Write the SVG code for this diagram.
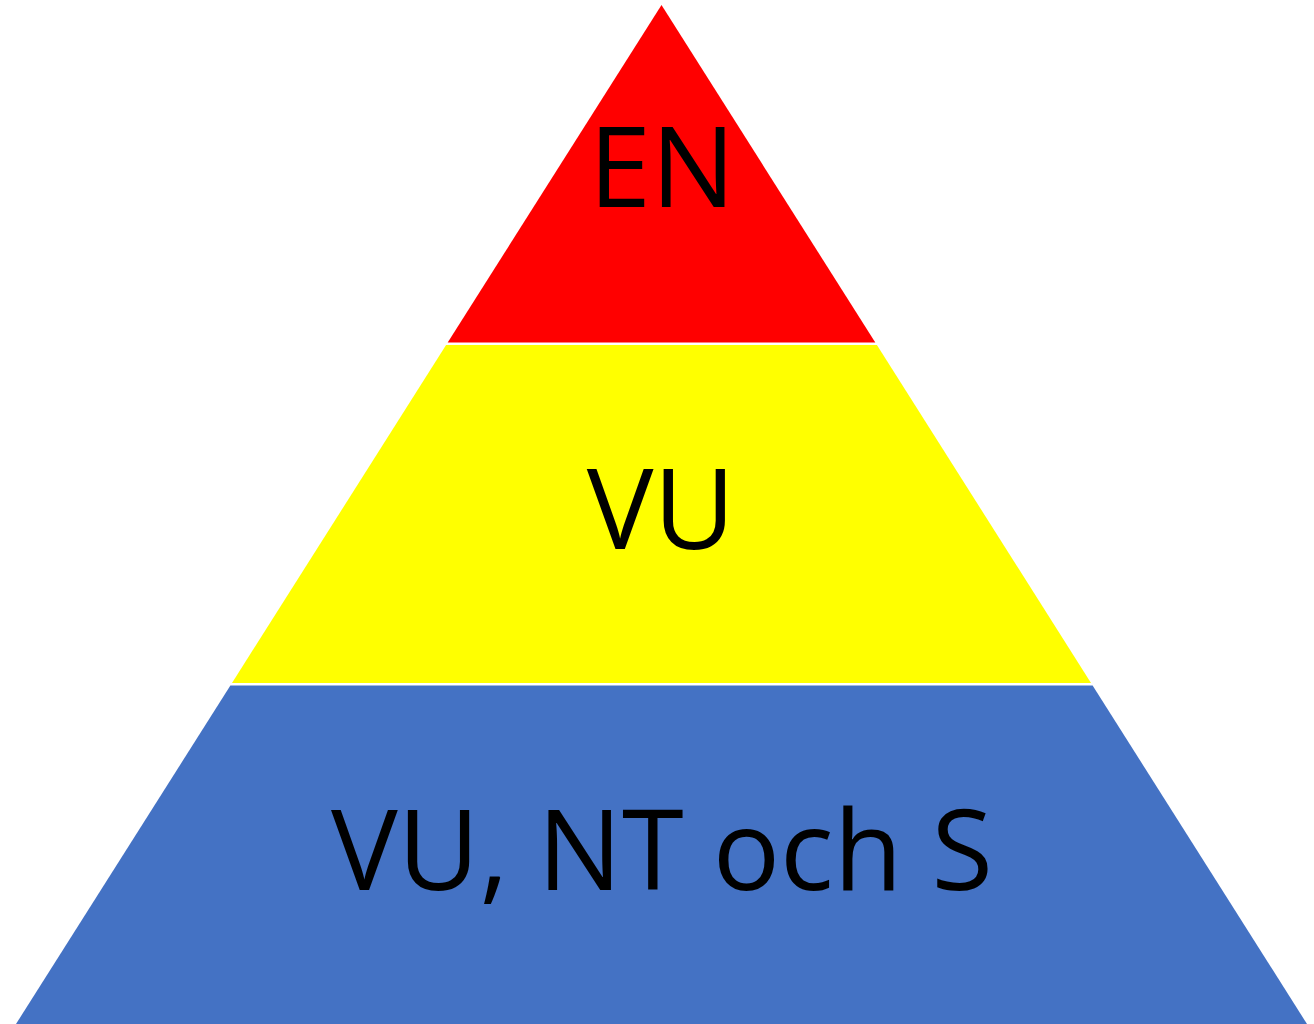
<svg xmlns="http://www.w3.org/2000/svg" width="1314" height="1024" viewBox="0 0 1314 1024">
<style>
text{font-family:"Open Sans","Noto Sans","Liberation Sans",sans-serif;font-size:112px;fill:#000;text-anchor:middle}
</style>
<rect width="1314" height="1024" fill="#fff"/>
<g id="level-en">
<polygon points="661.5,5 447.7,342.5 875.3,342.5" fill="#ff0000"/>
<text x="662" y="207">EN</text>
</g>
<g id="level-vu">
<polygon points="446.1,345 876.9,345 1091,683 232,683" fill="#ffff00"/>
<text x="661" y="549">VU</text>
</g>
<g id="level-base">
<polygon points="230.4,685.5 1092.6,685.5 1307,1024 16,1024" fill="#4472c4"/>
<text x="662" y="890">VU, NT och S</text>
</g>
<g id="connectors"/>
</svg>
